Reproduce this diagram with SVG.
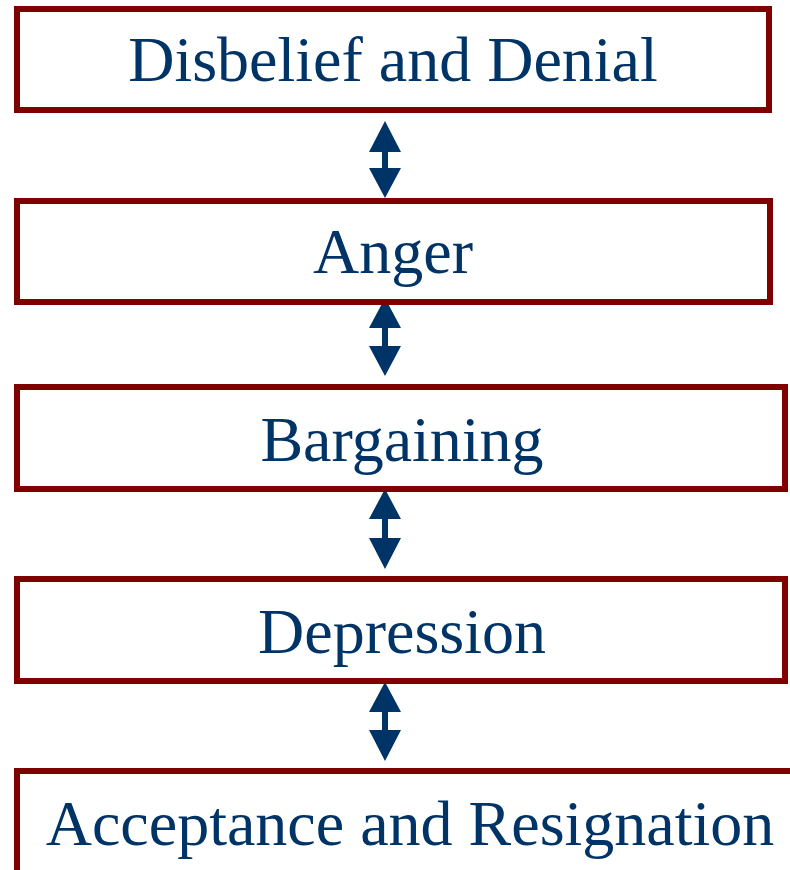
<svg xmlns="http://www.w3.org/2000/svg" width="790" height="870" viewBox="0 0 790 870">
  <style>
    .box { fill: #ffffff; stroke: #800000; stroke-width: 6; }
    .label { font-family: "Liberation Serif", "Times New Roman", serif; font-size: 64px; fill: #003366; text-anchor: middle; }
    .arrow { fill: #003366; stroke: none; }
  </style>
  <rect width="790" height="870" fill="#ffffff"/>

  <g id="connectors">
    <path class="arrow" d="M385,121 L401,152 L388,152 L388,168 L401,168 L385,198 L369,168 L382,168 L382,152 L369,152 Z"/>
    <path class="arrow" d="M385,298 L401,328 L388,328 L388,346 L401,346 L385,376 L369,346 L382,346 L382,328 L369,328 Z"/>
    <path class="arrow" d="M385,489 L401,519 L388,519 L388,538 L401,538 L385,569 L369,538 L382,538 L382,519 L369,519 Z"/>
    <path class="arrow" d="M385,682 L401,712 L388,712 L388,730 L401,730 L385,761 L369,730 L382,730 L382,712 L369,712 Z"/>
  </g>

  <g id="node-denial">
    <rect class="box" x="17" y="9" width="752" height="101"/>
    <text class="label" x="393" y="81">Disbelief and Denial</text>
  </g>
  <g id="node-anger">
    <rect class="box" x="17" y="201" width="753" height="101"/>
    <text class="label" x="393" y="273">Anger</text>
  </g>
  <g id="node-bargaining">
    <rect class="box" x="17" y="387" width="768" height="102"/>
    <text class="label" x="402" y="461">Bargaining</text>
  </g>
  <g id="node-depression">
    <rect class="box" x="17" y="579" width="768" height="102"/>
    <text class="label" x="402" y="653">Depression</text>
  </g>
  <g id="node-acceptance">
    <rect class="box" x="17" y="771" width="790" height="130"/>
    <text class="label" x="410" y="845">Acceptance and Resignation</text>
  </g>
</svg>
